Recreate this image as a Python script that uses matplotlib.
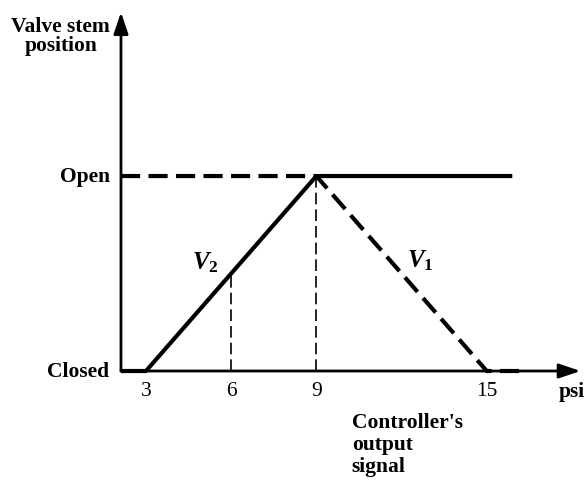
import matplotlib
matplotlib.use("Agg")
import matplotlib.pyplot as plt

# controller output (psi) and valve stem position (0 = closed, 1 = open)
tick_psi = [3, 6, 9, 15]
tick_labels = ["3", "6", "9", "15"]

v2_psi = [2.12, 3, 9, 15.9]   # air-to-open valve (solid)
v2_pos = [0, 0, 1, 1]
v1_psi = [2.12, 9, 15, 16.2]  # air-to-close valve (dashed)
v1_pos = [1, 1, 0, 0]

guide_psi = [6, 9]            # thin dashed drop lines
guide_pos = [0.5, 1]

plt.rcParams['font.family'] = ['Liberation Serif', 'DejaVu Serif']
plt.rcParams['mathtext.fontset'] = 'custom'
plt.rcParams['mathtext.it'] = 'Liberation Serif:italic:bold'
plt.rcParams['mathtext.rm'] = 'Liberation Serif:bold'

fig = plt.figure(figsize=(5.87, 4.81), dpi=100)
ax = fig.add_axes([0, 0, 1, 1])
ax.set_xlim(-2.14, 18.53)
ax.set_ylim(-0.559, 1.908)
ax.axis("off")

x0 = v2_psi[0]

# axes with arrow heads
arr = dict(arrowstyle='-|>,head_length=0.65,head_width=0.22', lw=2, color='black',
           shrinkA=0, shrinkB=0, mutation_scale=20)
ax.annotate("", xy=(x0, 1.84), xytext=(x0, 0), arrowprops=arr)
ax.annotate("", xy=(18.3, 0), xytext=(x0, 0), arrowprops=arr)

# characteristic lines
ax.plot(v2_psi, v2_pos, color='black', lw=3.0, solid_capstyle='butt')
ax.plot(v1_psi, v1_pos, color='black', lw=3.0, dashes=(4.6, 2.0))

for p, v in zip(guide_psi, guide_pos):
    ax.plot([p, p], [0, v], color='black', lw=1.2, dashes=(7, 3))

# labels
fs = 15.5
for p, t in zip(tick_psi, tick_labels):
    ax.text(p, -0.1, t, ha='center', va='center', fontsize=fs)
ax.text(17.55, -0.1, "psi", ha='left', va='center', fontsize=fs, fontweight='bold')

ax.text(1.75, 1.0, "Open", ha='right', va='center', fontsize=fs, fontweight='bold')
ax.text(1.7, 0.0, "Closed", ha='right', va='center', fontsize=fs, fontweight='bold')
ax.text(0.0, 1.72, "Valve stem\nposition", ha='center', va='center', fontsize=fs,
        fontweight='bold', linespacing=0.9)
ax.text(10.25, -0.21, "Controller's\noutput\nsignal", ha='left', va='top',
        fontsize=fs, fontweight='bold', linespacing=1.15)

ax.text(5.1, 0.56, r"$V_2$", ha='center', va='center', fontsize=18)
ax.text(12.65, 0.57, r"$V_1$", ha='center', va='center', fontsize=18)

fig.savefig("out.png", dpi=100)
